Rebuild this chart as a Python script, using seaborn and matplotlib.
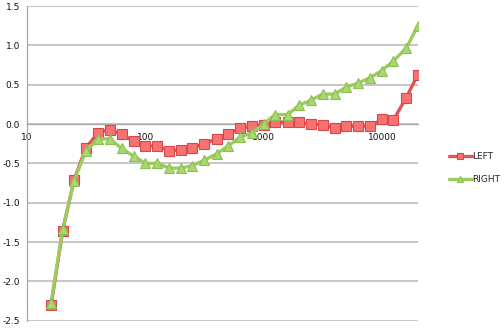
import matplotlib
matplotlib.use("Agg")
import matplotlib.pyplot as plt
import seaborn as sns
import pandas as pd
import numpy as np

freqs = [16, 20, 25, 31.5, 40, 50, 63, 80, 100, 125, 160, 200, 250, 315, 400, 500,
         630, 800, 1000, 1250, 1600, 2000, 2500, 3150, 4000, 5000, 6300, 8000,
         10000, 12500, 16000, 20000]
left = [-2.30, -1.36, -0.71, -0.30, -0.11, -0.07, -0.13, -0.22, -0.28, -0.28, -0.34,
        -0.33, -0.30, -0.25, -0.19, -0.13, -0.055, -0.03, -0.01, 0.03, 0.02, 0.02,
        0.00, -0.01, -0.055, -0.03, -0.03, -0.03, 0.06, 0.05, 0.33, 0.62]
right = [-2.27, -1.34, -0.72, -0.34, -0.19, -0.19, -0.31, -0.41, -0.50, -0.50, -0.56,
         -0.56, -0.53, -0.46, -0.38, -0.28, -0.17, -0.11, 0.00, 0.12, 0.12, 0.24,
         0.30, 0.38, 0.38, 0.47, 0.52, 0.59, 0.68, 0.80, 0.96, 1.24]
series_names = ["LEFT", "RIGHT"]
y_ticks = [-2.5, -2.0, -1.5, -1.0, -0.5, 0.0, 0.5, 1.0, 1.5]
x_ticks = [10, 100, 1000, 10000]

df = pd.DataFrame({
    "freq": freqs * 2,
    "value": left + right,
    "channel": [series_names[0]] * len(freqs) + [series_names[1]] * len(freqs),
})

sns.set_style("white")
plt.rcParams["font.family"] = ["DejaVu Sans"]

fig = plt.figure(figsize=(5.04, 3.31), dpi=100)
ax = fig.add_axes([27 / 504, 1 - 320.7 / 331, (417.5 - 27) / 504, (320.7 - 6) / 331])

RED, GREEN = "#E05555", "#9CCB5E"
palette = {"LEFT": RED, "RIGHT": GREEN}
sns.lineplot(data=df, x="freq", y="value", hue="channel", style="channel",
             markers={"LEFT": "s", "RIGHT": "^"}, dashes=False, palette=palette,
             linewidth=2.4, markersize=7, ax=ax, legend=True, zorder=3)

def style_marker(line):
    c = line.get_color()
    if c == RED:
        line.set_markerfacecolor("#F97272")
        line.set_markeredgecolor("#D84848")
        line.set_markeredgewidth(0.8)
    elif c == GREEN:
        line.set_markerfacecolor("#A8D872")
        line.set_markeredgecolor("#8EBE50")
        line.set_markeredgewidth(0.8)

for line in ax.get_lines():
    style_marker(line)

ax.set_xscale("log")
ax.set_xlim(10, 20000)
ax.set_ylim(-2.5, 1.5)
ax.set_yticks(y_ticks)
ax.set_yticklabels([f"{v:.1f}" for v in y_ticks])
ax.set_xticks(x_ticks)
ax.set_xticklabels([str(v) for v in x_ticks])
ax.xaxis.set_minor_locator(matplotlib.ticker.NullLocator())
ax.set_xlabel("")
ax.set_ylabel("")

ax.grid(axis="y", color="#C8C8C8", linewidth=1.5, zorder=0)
ax.grid(axis="x", visible=False)
for s in ["top", "right"]:
    ax.spines[s].set_visible(False)
ax.spines["bottom"].set_position(("data", 0))
ax.spines["bottom"].set_color("#A8A8A8")
ax.spines["bottom"].set_linewidth(0.9)
ax.spines["bottom"].set_zorder(1)
ax.spines["left"].set_color("#A8A8A8")
ax.spines["left"].set_linewidth(0.9)
ax.tick_params(axis="y", length=0, pad=5, labelsize=6.5, labelcolor="#111111")
ax.tick_params(axis="x", length=3, width=0.8, color="#A8A8A8", pad=3.5,
               labelsize=6.5, labelcolor="#111111", direction="out")

handles, labels = ax.get_legend_handles_labels()
for h in handles:
    style_marker(h)
    h.set_markersize(4.5)
    h.set_linewidth(2.4)
leg = ax.legend(handles, labels, loc="center left", bbox_to_anchor=(444 / 504, 163 / 331),
                bbox_transform=fig.transFigure, frameon=False, fontsize=6.5,
                handlelength=2.6, handletextpad=0.0, labelspacing=1.6, borderpad=0)

fig.savefig("out.png", dpi=100)
